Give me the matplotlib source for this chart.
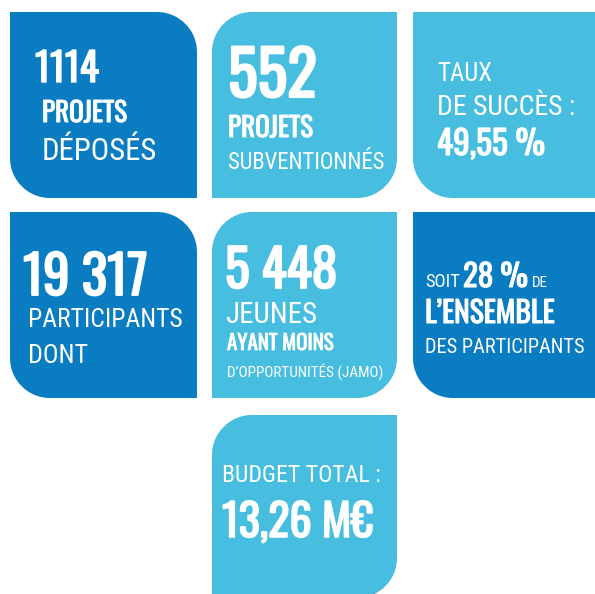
import matplotlib
matplotlib.use("Agg")
import matplotlib.pyplot as plt
import matplotlib.patheffects as pe
from matplotlib.path import Path
from matplotlib.patches import PathPatch
from matplotlib.textpath import TextPath
from matplotlib.font_manager import FontProperties

plt.rcParams['font.family'] = ['Roboto Condensed', 'DejaVu Sans']

# tile content
numbers = ["1114", "552", "49,55 %", "19 317", "5 448", "28 %", "13,26 M€"]
tile_lines = [
    ["1114", "PROJETS", "DÉPOSÉS"],
    ["552", "PROJETS", "SUBVENTIONNÉS"],
    ["TAUX", "DE SUCCÈS :", "49,55 %"],
    ["19 317", "PARTICIPANTS", "DONT"],
    ["5 448", "JEUNES", "AYANT MOINS", "D’OPPORTUNITÉS (JAMO)"],
    ["SOIT", "28 %", "DE", "L’ENSEMBLE", "DES PARTICIPANTS"],
    ["BUDGET TOTAL :", "13,26 M€"],
]

DARK = "#0a7cc1"
LIGHT = "#47bde0"

# tile boxes (x0, y0, x1, y1), colour, rounded corners
tiles = [
    ((10, 12, 197, 198), DARK, "tr bl"),
    ((212, 12, 397, 198), LIGHT, "tl br"),
    ((413, 12, 640, 198), LIGHT, "tr bl"),
    ((10, 212, 197, 398), DARK, "tr bl"),
    ((212, 212, 397, 398), LIGHT, "tl br"),
    ((413, 212, 640, 398), DARK, "tr bl"),
    ((212, 415, 397, 598), LIGHT, "tl br"),
]

# per line: x, baseline, cap height px, max width px, bold
layout = [
    [(35, 82, 32, 80, True), (42, 122, 22, 106, True), (42, 160, 23, 116, False)],
    [(228, 97, 54, 89, True), (228, 137, 22, 108, True), (228, 169, 17, 156, False)],
    [(437, 81, 23, 55, False), (437, 115, 21, 138, False), (437, 155, 27, 108, True)],
    [(23, 295, 43, 134, True), (28, 327, 24, 155, False), (28, 363, 25, 60, False)],
    [(225, 288, 42, 115, True), (225, 323, 25, 92, False), (227, 350, 17, 120, True),
     (227, 377, 14, 157, False)],
    [(425, 287, 15, 35, False), (463, 287, 27, 65, True), (532, 287, 15, 16, False),
     (425, 323, 24, 160, True), (425, 353, 19, 160, False)],
    [(222, 482, 22, 158, False), (222, 537, 39, 151, True)],
]

bold_family = ['Oswald', 'Roboto Condensed', 'DejaVu Sans']
reg_family = ['Roboto Condensed', 'DejaVu Sans']


def cap_ratio(family, weight):
    fp = FontProperties(family=family, weight=weight)
    return TextPath((0, 0), "H", size=1, prop=fp).get_extents().height


def tile_path(x0, y0, x1, y1, corners, r=40):
    k = 0.5523 * r
    v, c = [], []

    def line(p):
        v.append(p)
        c.append(Path.LINETO)

    def curve(p1, p2, p3):
        v.extend([p1, p2, p3])
        c.extend([Path.CURVE4] * 3)

    # start at top-left going clockwise (y grows downward)
    if "tl" in corners:
        v.append((x0, y0 + r)); c.append(Path.MOVETO)
        curve((x0, y0 + r - k), (x0 + r - k, y0), (x0 + r, y0))
    else:
        v.append((x0, y0)); c.append(Path.MOVETO)
    if "tr" in corners:
        line((x1 - r, y0))
        curve((x1 - r + k, y0), (x1, y0 + r - k), (x1, y0 + r))
    else:
        line((x1, y0))
    if "br" in corners:
        line((x1, y1 - r))
        curve((x1, y1 - r + k), (x1 - r + k, y1), (x1 - r, y1))
    else:
        line((x1, y1))
    if "bl" in corners:
        line((x0 + r, y1))
        curve((x0 + r - k, y1), (x0, y1 - r + k), (x0, y1 - r))
    else:
        line((x0, y1))
    v.append(v[0]); c.append(Path.CLOSEPOLY)
    return Path(v, c)


fig = plt.figure(figsize=(5.95, 5.94), dpi=100)
ax = fig.add_axes([0, 0, 1, 1])
ax.set_xlim(0, 595)
ax.set_ylim(594, 0)
ax.axis("off")

for (box, col, corners) in tiles:
    ax.add_patch(PathPatch(tile_path(*box, corners), facecolor=col, edgecolor="none"))

ratios = {True: cap_ratio(bold_family, "bold"), False: cap_ratio(reg_family, "normal")}
px_per_pt = 100 / 72

renderer = fig.canvas.get_renderer()
for lines, lay in zip(tile_lines, layout):
    for txt, (x, yb, cap, maxw, bold) in zip(lines, lay):
        size = cap / (ratios[bold] * px_per_pt)
        t = ax.text(x, yb, txt, color="white", fontsize=size,
                    family=bold_family if bold else reg_family,
                    fontweight="bold" if bold else "normal",
                    ha="left", va="baseline")
        w = t.get_window_extent(renderer).width
        if w > maxw * 1.04:
            size = size * maxw / w
            t.set_fontsize(size)
        if bold:
            # Oswald only ships one weight here: thicken strokes
            t.set_path_effects([pe.withStroke(linewidth=size * 0.035, foreground="white")])

fig.savefig("out.png", dpi=100)
